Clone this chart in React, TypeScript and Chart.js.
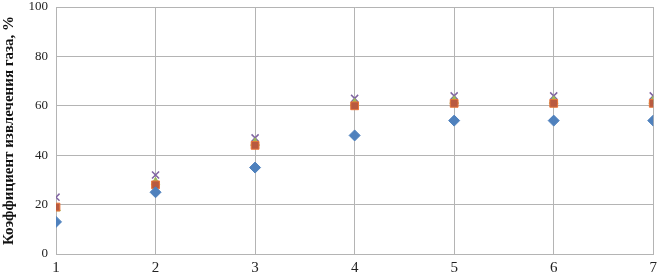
import React, { useEffect, useRef } from "react";
import { Chart, registerables } from "chart.js";

Chart.register(...registerables);

const xValues = [1, 2, 3, 4, 5, 6, 7];
const seriesBlue = [13, 25, 35, 48, 54, 54, 54];
const seriesRed = [19, 28, 44, 60, 61, 61, 61];
const seriesGreen = [18.5, 29, 45, 61, 62, 62, 62];
const seriesPurple = [23, 32, 47, 63, 64, 64, 64];
const yTitle = "Коэффициент извлечения газа, %";

const toPts = (ys: number[]) => ys.map((y, i) => ({ x: xValues[i], y }));

export default function App() {
  const ref = useRef<HTMLCanvasElement>(null);
  useEffect(() => {
    document.body.style.margin = "0";
    const chart = new Chart(ref.current!, {
      type: "scatter",
      data: {
        datasets: [
          { label: "1", data: toPts(seriesBlue), pointStyle: "rectRot", radius: 5.5, backgroundColor: "#4F81BD", borderColor: "#4F81BD", borderWidth: 1 },
          { label: "2", data: toPts(seriesRed), pointStyle: "rect", radius: 5.5, backgroundColor: "#B85A40", borderColor: "#E8763A", borderWidth: 1 },
          { label: "3", data: toPts(seriesGreen), pointStyle: "triangle", radius: 5, backgroundColor: "#9BBB59", borderColor: "#9BBB59", borderWidth: 1 },
          { label: "4", data: toPts(seriesPurple), pointStyle: "crossRot", radius: 5, backgroundColor: "#8064A2", borderColor: "#8064A2", borderWidth: 1.5 },
        ],
      },
      options: {
        animation: false,
        responsive: false,
        maintainAspectRatio: false,
        layout: { padding: { top: 0, right: 5, bottom: 0, left: 0 } },
        plugins: { legend: { display: false }, tooltip: { enabled: false } },
        scales: {
          x: {
            type: "linear",
            min: 1,
            max: 7,
            ticks: { stepSize: 1, color: "#222", font: { family: "Liberation Serif", size: 15 }, padding: 5 },
            grid: { color: "#b4b4b4", drawTicks: false },
            border: { color: "#b4b4b4" },
            afterFit: (s: any) => { s.height = 26; s.paddingBottom = 0; },
          },
          y: {
            min: 0,
            max: 100,
            ticks: { stepSize: 20, color: "#222", font: { family: "Liberation Serif", size: 13 }, padding: 8 },
            grid: { color: "#b4b4b4", drawTicks: false },
            border: { color: "#b4b4b4" },
            title: { display: true, text: yTitle, color: "#111", font: { family: "Liberation Serif", size: 15, weight: "bold" }, padding: 0 },
            afterFit: (s: any) => { s.width = 56; s.paddingTop = 7; s.paddingBottom = 0; },
          },
        },
      },
    });
    return () => chart.destroy();
  }, []);
  return (
    <div style={{ position: "absolute", left: 0, top: 0, width: 662, height: 280 }}>
      <canvas ref={ref} width={662} height={280} style={{ width: 662, height: 280 }} />
    </div>
  );
}
